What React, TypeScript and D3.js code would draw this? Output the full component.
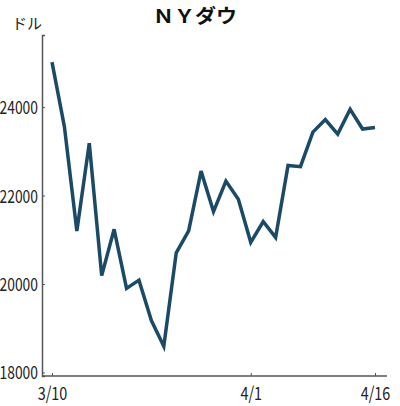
import { useEffect, useRef } from 'react';
import * as d3 from 'd3';

// NY Dow closing prices, 2020 trading days
const dates = [
  '3/10', '3/11', '3/12', '3/13', '3/16', '3/17', '3/18', '3/19', '3/20',
  '3/23', '3/24', '3/25', '3/26', '3/27', '3/30', '3/31',
  '4/1', '4/2', '4/3', '4/6', '4/7', '4/8', '4/9', '4/13', '4/14', '4/15', '4/16',
];
const closes = [
  25018, 23553, 21200, 23185, 20189, 21237, 19899, 20087, 19174,
  18592, 20704, 21200, 22552, 21637, 22327, 21917,
  20943, 21413, 21053, 22680, 22654, 23434, 23719, 23390, 23950, 23504, 23538,
];
const xTickLabels = ['3/10', '4/1', '4/16'];
const yTicks = [18000, 20000, 22000, 24000];

const FONT = '"Noto Sans CJK JP", "Noto Sans", sans-serif';

// squeeze tick labels horizontally, like the condensed face in the original
function condense(sel: d3.Selection<any, any, any, any>, factor: number) {
  sel.each(function () {
    const node = this as SVGTextElement;
    const len = node.getComputedTextLength();
    d3.select(node).attr('textLength', len * factor).attr('lengthAdjust', 'spacingAndGlyphs');
  });
}

export default function App() {
  const svgRef = useRef<SVGSVGElement>(null);

  useEffect(() => {
    if (!svgRef.current) return;
    const width = 400;
    const height = 406;
    const axisX = 42;
    const axisY = 376;

    const svg = d3.select(svgRef.current);
    svg.selectAll('*').remove();
    svg.attr('width', width).attr('height', height);

    const x = d3.scalePoint<string>()
      .domain(dates)
      .range([52, 375]);

    const y = d3.scaleLinear()
      .domain([17920, 25630])
      .range([axisY, 35]);

    // y axis
    const yAxis = svg.append('g')
      .attr('transform', `translate(${axisX},0)`)
      .call(d3.axisRight(y).tickValues(yTicks).tickSize(3).tickFormat(d => String(d)));
    yAxis.select('.domain').attr('stroke', '#555').attr('stroke-width', 1.5);
    yAxis.selectAll('.tick line').attr('stroke', '#555');
    const yText = yAxis.selectAll('.tick text')
      .attr('x', -4)
      .attr('dy', '0.36em')
      .attr('text-anchor', 'end')
      .attr('fill', '#222')
      .style('font-family', FONT)
      .style('font-size', '18px');
    condense(yText, 0.77);

    // x axis
    const xAxis = svg.append('g')
      .attr('transform', `translate(0,${axisY})`)
      .call(d3.axisTop(x).tickValues(xTickLabels).tickSize(3).tickSizeOuter(0));
    xAxis.select('.domain')
      .attr('d', `M${axisX},0H387`)
      .attr('stroke', '#555')
      .attr('stroke-width', 1.5);
    xAxis.selectAll('.tick line').attr('stroke', '#555');
    const xText = xAxis.selectAll('.tick text')
      .attr('y', 24)
      .attr('dy', 0)
      .attr('fill', '#222')
      .style('font-family', FONT)
      .style('font-size', '18px');
    condense(xText, 0.8);

    // line
    const line = d3.line<number>()
      .x((_, i) => x(dates[i]) as number)
      .y(d => y(d));

    svg.append('path')
      .datum(closes)
      .attr('d', line)
      .attr('fill', 'none')
      .attr('stroke', '#1b4a66')
      .attr('stroke-width', 3.5)
      .attr('stroke-linejoin', 'miter');

    // title and unit
    svg.append('text')
      .attr('x', 195)
      .attr('y', 23)
      .attr('text-anchor', 'middle')
      .attr('textLength', 84)
      .attr('lengthAdjust', 'spacingAndGlyphs')
      .style('font-family', FONT)
      .style('font-size', '19px')
      .style('font-weight', 'bold')
      .attr('fill', '#111')
      .text('ＮＹダウ');

    svg.append('text')
      .attr('x', 12)
      .attr('y', 29)
      .style('font-family', FONT)
      .style('font-size', '15px')
      .attr('fill', '#222')
      .text('ドル');
  }, []);

  return (
    <div style={{ position: 'absolute', left: 0, top: 0, background: '#fff' }}>
      <svg ref={svgRef} style={{ display: 'block' }}></svg>
    </div>
  );
}
